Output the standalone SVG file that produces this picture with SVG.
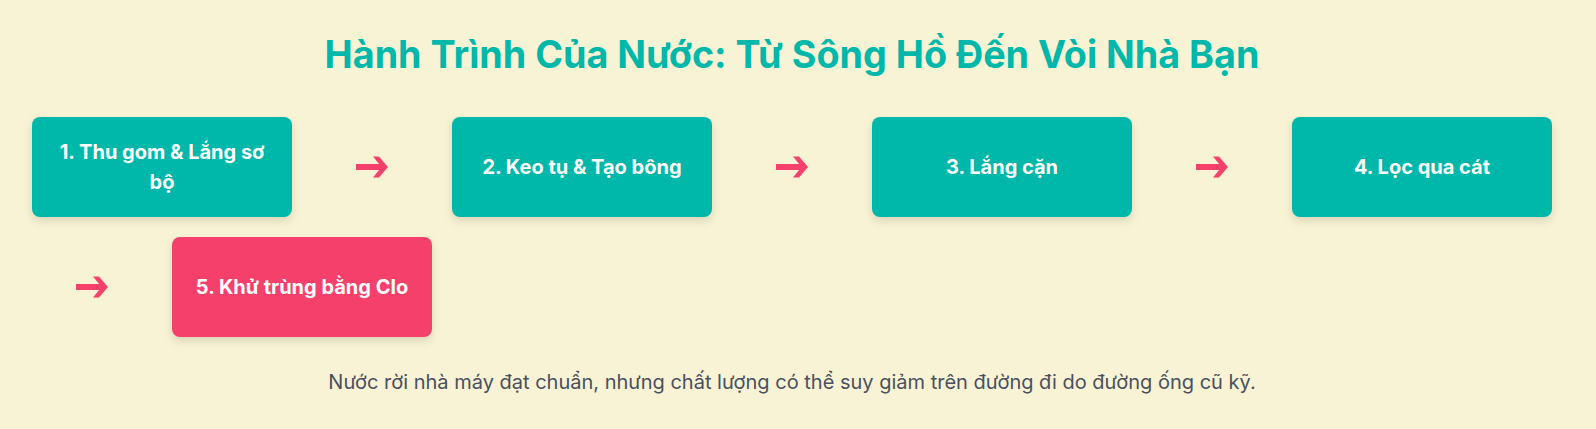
<svg xmlns="http://www.w3.org/2000/svg" width="1596" height="429" viewBox="0 0 1596 429">
  <defs>
    <filter id="sh" x="-10%" y="-10%" width="120%" height="130%">
      <feDropShadow dx="0" dy="4" stdDeviation="4" flood-color="#000" flood-opacity="0.12"/>
    </filter>
    <g id="arrow">
      <rect x="-16" y="-3" width="26" height="6" fill="#F6416C"/>
      <polygon points="1,-10.5 7,-10.5 16,0 7,10.5 1,10.5 9.5,0" fill="#F6416C"/>
    </g>
  </defs>
  <style>
    .title { font-family: Inter, "Noto Sans", sans-serif; font-size: 37.7px; font-weight: 700; fill: #00B8A9; text-anchor: middle; }
    .box { filter: url(#sh); }
    .teal { fill: #00B8A9; }
    .pink { fill: #F6416C; }
    .lbl { font-family: Inter, "Noto Sans", sans-serif; font-size: 20px; font-weight: 700; fill: #ffffff; text-anchor: middle; }
    .foot { font-family: Inter, "Noto Sans", sans-serif; font-size: 20px; font-weight: 400; fill: #4a5060; text-anchor: middle; }
  </style>
  <rect width="1596" height="429" fill="#F8F3D4"/>
  <text class="title" x="792" y="68">Hành Trình Của Nước: Từ Sông Hồ Đến Vòi Nhà Bạn</text>

  <g id="node1">
    <rect class="box teal" x="32" y="117" width="260" height="100" rx="8"/>
    <text class="lbl" x="162" y="159">1. Thu gom &amp; Lắng sơ</text>
    <text class="lbl" x="162" y="189">bộ</text>
  </g>
  <g id="node2">
    <rect class="box teal" x="452" y="117" width="260" height="100" rx="8"/>
    <text class="lbl" x="582" y="174">2. Keo tụ &amp; Tạo bông</text>
  </g>
  <g id="node3">
    <rect class="box teal" x="872" y="117" width="260" height="100" rx="8"/>
    <text class="lbl" x="1002" y="174">3. Lắng cặn</text>
  </g>
  <g id="node4">
    <rect class="box teal" x="1292" y="117" width="260" height="100" rx="8"/>
    <text class="lbl" x="1422" y="174">4. Lọc qua cát</text>
  </g>
  <g id="node5">
    <rect class="box pink" x="172" y="237" width="260" height="100" rx="8"/>
    <text class="lbl" x="302" y="294">5. Khử trùng bằng Clo</text>
  </g>

  <g id="connectors">
    <use href="#arrow" x="372" y="167"/>
    <use href="#arrow" x="792" y="167"/>
    <use href="#arrow" x="1212" y="167"/>
    <use href="#arrow" x="92" y="287"/>
  </g>

  <text class="foot" x="792" y="389">Nước rời nhà máy đạt chuẩn, nhưng chất lượng có thể suy giảm trên đường đi do đường ống cũ kỹ.</text>
</svg>
